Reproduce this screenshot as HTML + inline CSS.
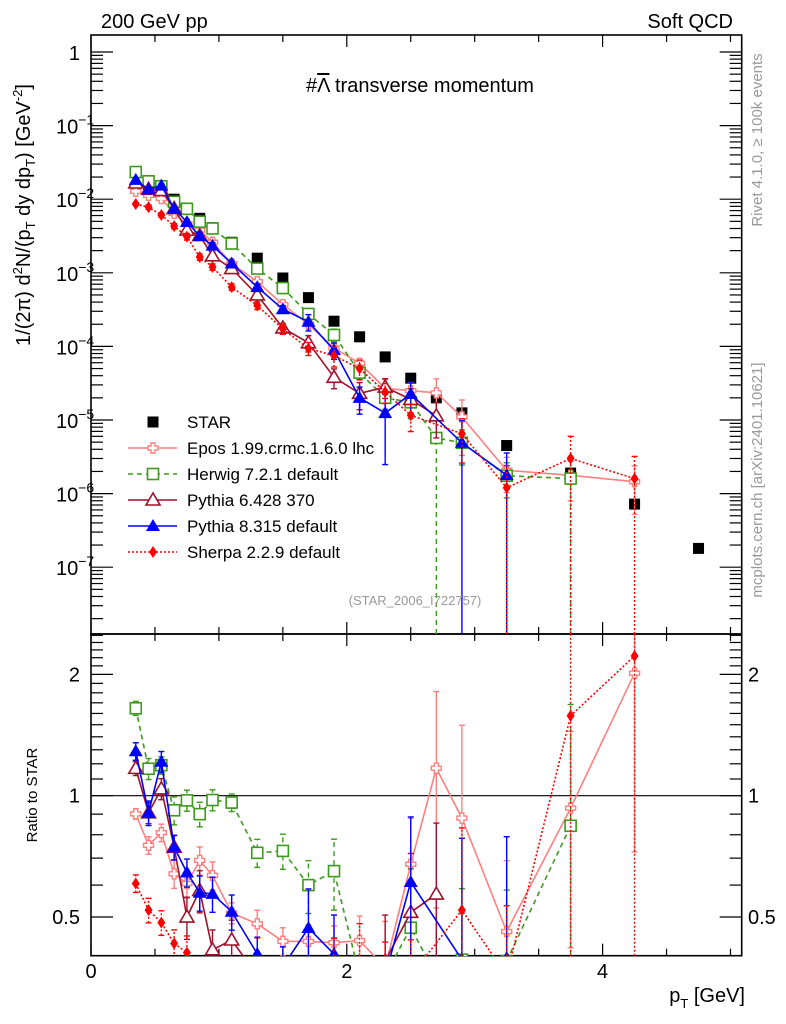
<!DOCTYPE html>
<html><head><meta charset="utf-8"><style>
html,body{margin:0;background:#fff;overflow:hidden;width:786px;height:1024px;}
svg{display:block;}
svg text{font-family:"Liberation Sans",sans-serif;}
</style></head><body>
<svg id="chart" width="786" height="1024" viewBox="0 0 786 1024" xmlns="http://www.w3.org/2000/svg">
<defs>
<clipPath id="clipMain"><rect x="91" y="35" width="651" height="599"/></clipPath>
<clipPath id="clipRatio"><rect x="91" y="634" width="651" height="322"/></clipPath>
</defs>
<g id="axes"></g>
<g id="series"></g>
<text x="101" y="28" font-size="20">200 GeV pp</text>
<text x="733" y="28" font-size="20" text-anchor="end">Soft QCD</text>
<text x="420" y="92" font-size="20" text-anchor="middle">#<tspan text-decoration="overline">Λ</tspan> transverse momentum</text>
<text x="415" y="605" font-size="13" fill="#999" text-anchor="middle">(STAR_2006_I722757)</text>
<text transform="translate(762,140) rotate(-90)" font-size="15" fill="#999" text-anchor="middle">Rivet 4.1.0, ≥ 100k events</text>
<text transform="translate(762,480) rotate(-90)" font-size="15" fill="#999" text-anchor="middle">mcplots.cern.ch [arXiv:2401.10621]</text>
<text transform="translate(30,215) rotate(-90)" font-size="20" text-anchor="middle">1/(2π)  d<tspan font-size="13" dy="-8">2</tspan><tspan dy="8">N/(p</tspan><tspan font-size="13" dy="5">T</tspan><tspan dy="-5"> dy dp</tspan><tspan font-size="13" dy="5">T</tspan><tspan dy="-5">) [GeV</tspan><tspan font-size="13" dy="-8">-2</tspan><tspan dy="8">]</tspan></text>
<text transform="translate(37,795) rotate(-90)" font-size="15" text-anchor="middle">Ratio to STAR</text>
<text x="745" y="1002" font-size="20" text-anchor="end">p<tspan font-size="13" dy="6">T</tspan><tspan dy="-6"> [GeV]</tspan></text>
<g id="legend"></g>
</svg>
<script>
const pt = [0.35,0.45,0.55,0.65,0.75,0.85,0.95,1.1,1.3,1.5,1.7,1.9,2.1,2.3,2.5,2.7,2.9,3.25,3.75,4.25,4.75];
const star = [1.42e-2,1.5e-2,1.26e-2,1.0e-2,7.6e-3,5.5e-3,4.1e-3,2.6e-3,1.58e-3,8.5e-4,4.6e-4,2.2e-4,1.35e-4,7.2e-5,3.7e-5,2.0e-5,1.25e-5,4.5e-6,1.9e-6,7.2e-7,1.8e-7];
const epos = [1.28e-2,1.13e-2,1.02e-2,6.4e-3,4.6e-3,3.8e-3,2.6e-3,1.33e-3,7.6e-4,3.7e-4,2.0e-4,9.5e-5,5.9e-5,2.7e-5,2.5e-5,2.34e-5,1.1e-5,2.07e-6,1.77e-6,1.45e-6,null];
const eposErr = [0.03,0.05,0.05,0.08,0.08,0.08,0.08,0.06,0.08,0.08,0.1,0.1,0.15,0.3,0.3,0.55,0.7,0.5,0.55,0.64,null];
const herwig = [2.34e-2,1.75e-2,1.5e-2,9.2e-3,7.4e-3,4.95e-3,4.0e-3,2.5e-3,1.14e-3,6.2e-4,2.76e-4,1.43e-4,4.4e-5,2.0e-5,1.74e-5,5.7e-6,4.9e-6,1.75e-6,1.6e-6,null,null];
const herwigErr = [0.04,0.06,0.05,0.08,0.06,0.07,0.06,0.05,0.08,0.1,0.15,0.2,0.2,0.3,0.4,1,0.5,0.5,1,null,null];
const py6 = [1.66e-2,1.36e-2,1.31e-2,7.45e-3,3.8e-3,3.2e-3,1.7e-3,1.14e-3,5.0e-4,1.78e-4,1.12e-4,3.8e-5,2.3e-5,2.8e-5,1.9e-5,1.14e-5,null,null,null,null,null];
const py6Err = [0.04,0.06,0.06,0.07,0.12,0.12,0.12,0.12,0.12,0.15,0.25,0.3,0.4,0.3,0.4,0.5,null,null,null,null,null];
const py8 = [1.83e-2,1.36e-2,1.53e-2,7.45e-3,4.9e-3,3.16e-3,2.34e-3,1.34e-3,6.4e-4,3.2e-4,2.16e-4,8.9e-5,2.0e-5,1.24e-5,2.26e-5,null,4.9e-6,1.78e-6,null,null,null];
const py8Err = [0.05,0.07,0.06,0.07,0.08,0.1,0.1,0.1,0.1,0.12,0.25,0.25,0.4,0.8,0.45,null,1,1,null,null,null];
const sherpa = [8.6e-3,7.8e-3,6.1e-3,4.3e-3,3.1e-3,1.64e-3,1.2e-3,6.4e-4,3.6e-4,1.72e-4,9.4e-5,7.5e-5,5.0e-5,2.4e-5,1.16e-5,null,6.5e-6,1.2e-6,3.0e-6,1.6e-6,null];
const sherpaErr = [0.05,0.07,0.07,0.08,0.1,0.1,0.1,0.1,0.12,0.15,0.2,0.3,0.3,0.3,0.4,null,0.6,1,1,1,null];
const yTickLabels = ["1","10","10","10","10","10","10","10"];
const yTickExps = ["","−1","−2","−3","−4","−5","−6","−7"];
const xTickLabels = ["0","2","4"];
const ratioTickLabels = ["0.5","1","2"];

const NS="http://www.w3.org/2000/svg";
const L=91,R=741.7,MT=35,MB=634,RT=634,RB=955.7;
const X=v=>L+v*127.9;
const Y=v=>52-73.6*Math.log10(v);
const YR=r=>795.7-403*Math.log10(r);
function mk(tag,attrs,parent){const e=document.createElementNS(NS,tag);for(const k in attrs)e.setAttribute(k,attrs[k]);parent.appendChild(e);return e;}
const axes=document.getElementById('axes');
let f1=mk('rect',{x:L,y:MT,width:R-L,height:MB-MT,fill:'none',stroke:'#000','stroke-width':1.6},axes);


let f2=mk('rect',{x:L,y:RT,width:R-L,height:RB-RT,fill:'none',stroke:'#000','stroke-width':1.6},axes);


for(let v=0;v<=5.01;v+=0.5){
  const maj=Math.abs(v%2)<1e-6;const len=maj?12:7;const x=X(v);
  [[MT,1],[MB,-1],[RT,1],[RB,-1]].forEach(([y0,d])=>mk('line',{x1:x,x2:x,y1:y0,y2:y0+d*len,stroke:'#000','stroke-width':1.2},axes));
}
xTickLabels.forEach((t,i)=>{const tx=mk('text',{x:X(i*2),y:978,'font-size':20,'text-anchor':'middle'},axes);tx.textContent=t;

});
for(let e=0;e>=-8;e--){for(let m=1;m<=9;m++){const v=m*Math.pow(10,e);const y=Y(v);if(y<MT||y>MB)continue;const len=m==1?22:12;
 mk('line',{x1:L,x2:L+len,y1:y,y2:y,stroke:'#000','stroke-width':1.2},axes);mk('line',{x1:R,x2:R-len,y1:y,y2:y,stroke:'#000','stroke-width':1.2},axes);}}
yTickLabels.forEach((t,i)=>{const y=Y(Math.pow(10,-i));const tx=mk('text',{x:i==0?80:56,y:y+8,'font-size':20,'text-anchor':i==0?'end':'start'},axes);
 tx.textContent=t;if(i>0){const s=mk('tspan',{'font-size':14,dy:-9},tx);s.textContent=yTickExps[i];}
 
 });
const rt=[0.4,0.5,0.6,0.7,0.8,0.9,1,1.1,1.2,1.3,1.4,1.5,1.6,1.7,1.8,1.9,2,2.1,2.2,2.3,2.4,2.5];
rt.forEach(r=>{const y=YR(r);if(y<RT||y>RB)return;const maj=[0.5,1,2].some(m=>Math.abs(m-r)<1e-6);const len=maj?22:12;
 mk('line',{x1:L,x2:L+len,y1:y,y2:y,stroke:'#000','stroke-width':1.2},axes);mk('line',{x1:R,x2:R-len,y1:y,y2:y,stroke:'#000','stroke-width':1.2},axes);});
ratioTickLabels.forEach(t=>{const y=YR(parseFloat(t))+7;
 const a=mk('text',{x:80,y:y,'font-size':20,'text-anchor':'end'},axes);a.textContent=t;
 
 
 const b=mk('text',{x:748,y:y,'font-size':20},axes);b.textContent=t;
 
 });
let one=mk('line',{x1:L,x2:R,y1:YR(1),y2:YR(1),stroke:'#000','stroke-width':1.2},axes);



function marker(g,type,x,y,c){
 if(type=='sq')mk('rect',{x:x-5.5,y:y-5.5,width:11,height:11,fill:'#000'},g);
 else if(type=='osq')mk('rect',{x:x-5.5,y:y-5.5,width:11,height:11,fill:'#fff',stroke:c,'stroke-width':1.6},g);
 else if(type=='otri')mk('polygon',{points:`${x},${y-7} ${x-7},${y+5} ${x+7},${y+5}`,fill:'#fff',stroke:c,'stroke-width':1.6},g);
 else if(type=='tri')mk('polygon',{points:`${x},${y-7} ${x-7},${y+5} ${x+7},${y+5}`,fill:c},g);
 else if(type=='dia')mk('polygon',{points:`${x},${y-6} ${x-4},${y} ${x},${y+6} ${x+4},${y}`,fill:c},g);
 else if(type=='cross')mk('path',{d:`M${x-2},${y-5}h4v3h3v4h-3v3h-4v-3h-3v-4h3z`,fill:'#fff',stroke:c,'stroke-width':1.4},g);
}
const sers=[
 {name:'epos',v:epos,e:eposErr,c:'#ff7f7f',dash:'',m:'cross',lab:'Epos 1.99.crmc.1.6.0 lhc'},
 {name:'herwig',v:herwig,e:herwigErr,c:'#3c9a1c',dash:'5,4',m:'osq',lab:'Herwig 7.2.1 default'},
 {name:'pythia6',v:py6,e:py6Err,c:'#a0102a',dash:'',m:'otri',lab:'Pythia 6.428 370'},
 {name:'pythia8',v:py8,e:py8Err,c:'#0000ff',dash:'',m:'tri',lab:'Pythia 8.315 default'},
 {name:'sherpa',v:sherpa,e:sherpaErr,c:'#ff0000',dash:'2,2',m:'dia',lab:'Sherpa 2.2.9 default'}];
const sg=document.getElementById('series');
const gm=mk('g',{'clip-path':'url(#clipMain)'},sg);
const gr=mk('g',{'clip-path':'url(#clipRatio)'},sg);
const gs=mk('g',{},gm);


star.forEach((v,i)=>marker(gs,'sq',X(pt[i]),Y(v),'#000'));
sers.forEach(s=>{
 [[gm,Y,1,MB],[gr,YR,0,RB]].forEach(([parent,fy,isMain,bot])=>{
  const g=mk('g',{},parent);
  
  
  const val=i=>isMain?s.v[i]:s.v[i]/star[i];
  const cy=y=>Math.min(Math.max(y,isMain?MT-20:RT-20),bot+20);
  let pts=[];
  s.v.forEach((v,i)=>{if(v!=null)pts.push([X(pt[i]),cy(fy(val(i)))]);});
  mk('polyline',{points:pts.map(p=>p.join(',')).join(' '),fill:'none',stroke:s.c,'stroke-width':1.6,'stroke-dasharray':s.dash},g);
  s.v.forEach((v,i)=>{if(v==null)return;const x=X(pt[i]);const vv=val(i);const e=s.e[i];
   const yl=e>=1?bot:cy(fy(vv*(1-e)));const yh=cy(fy(vv*(1+e)));
   mk('line',{x1:x,x2:x,y1:yl,y2:yh,stroke:s.c,'stroke-width':1.4,'stroke-dasharray':s.dash},g);
   mk('line',{x1:x-3,x2:x+3,y1:yh,y2:yh,stroke:s.c,'stroke-width':1.4},g);
   if(e<1)mk('line',{x1:x-3,x2:x+3,y1:yl,y2:yl,stroke:s.c,'stroke-width':1.4},g);
   const my=fy(vv);if(my>bot+10)return;
   marker(g,s.m,x,my,s.c);});
 });
});
const lg=document.getElementById('legend');


let le=mk('g',{},lg);


marker(le,'sq',153,422,'#000');
let lt=mk('text',{x:187,y:428,'font-size':17},le);lt.textContent='STAR';
sers.forEach((s,k)=>{const y=448+k*26;const g=mk('g',{},lg);
 
 
 mk('line',{x1:128,x2:177,y1:y,y2:y,stroke:s.c,'stroke-width':1.6,'stroke-dasharray':s.dash},g);
 marker(g,s.m,153,y,s.c);
 const t=mk('text',{x:187,y:y+6,'font-size':17},g);t.textContent=s.lab;});
</script>
</body></html>
